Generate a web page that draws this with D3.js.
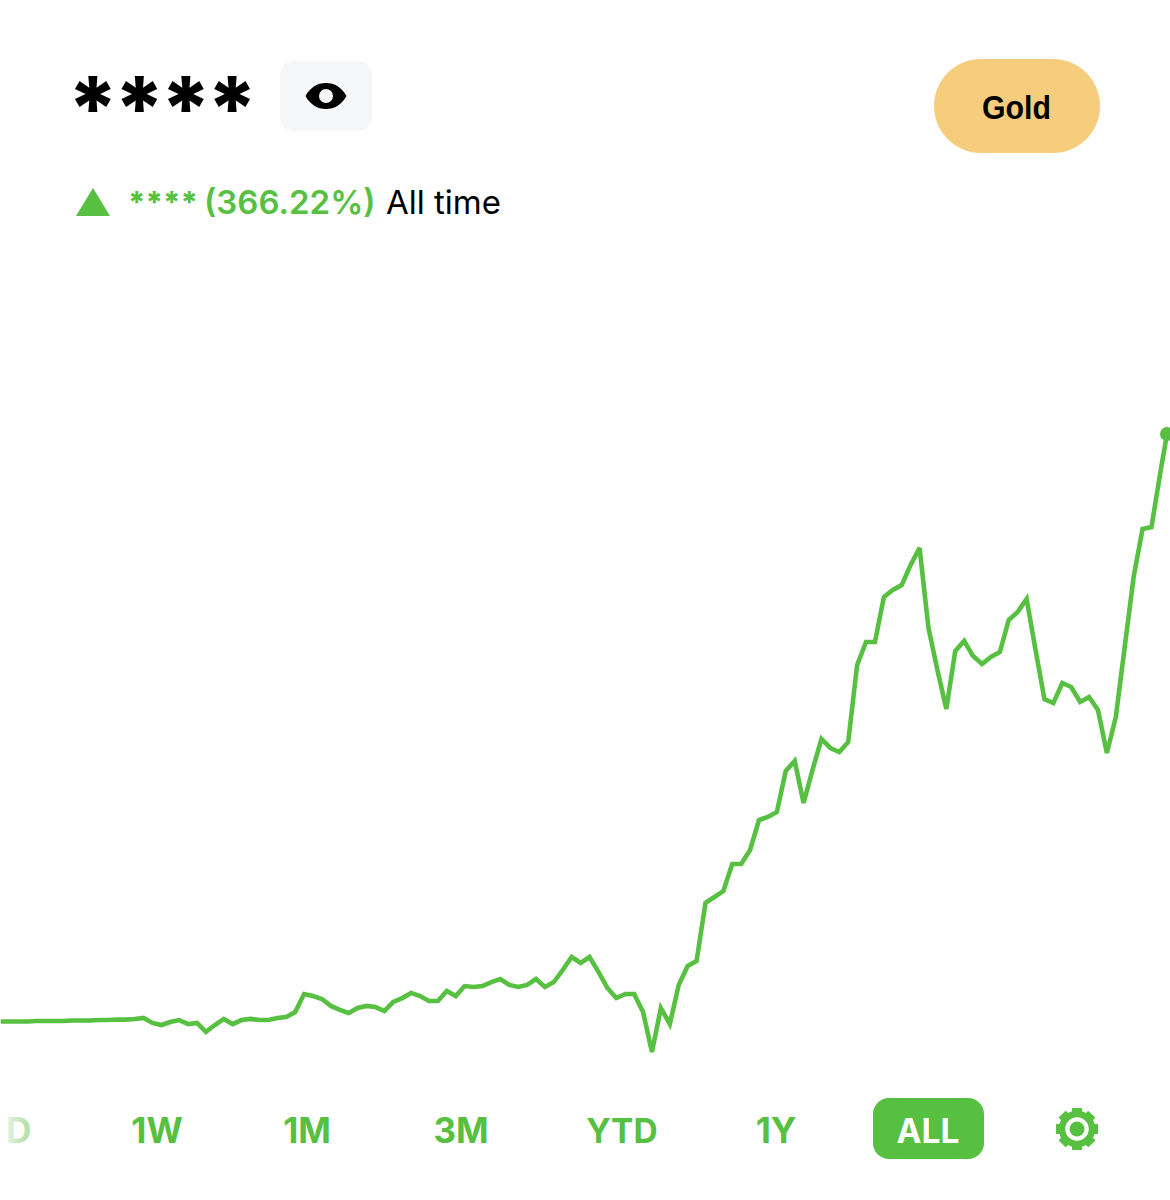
<!DOCTYPE html>
<html><head><meta charset="utf-8">
<script src="https://cdn.jsdelivr.net/npm/d3@7"></script>
<style>html,body{margin:0;padding:0;background:#fff}svg{display:block}text{font-family:Inter,sans-serif}</style>
</head><body><svg id="c" width="1170" height="1200"></svg>
<script>
const gains = [0,0,0,0,.3,.3,.3,.3,.6,.6,.6,.9,.9,1.2,1.2,1.6,2.2,
-.9,-2.2,-.3,.9,-1.6,-.9,-6.5,-2.2,1.6,-1.6,.9,1.6,.9,.9,2.2,2.8,5.9,17.1,15.9,14,9.7,7.2,5.3,8.4,9.7,9,6.5,12.2,14.6,17.8,15.9,12.8,12.8,19,15.9,22.1,21.5,22.1,24.6,26.5,22.8,21.5,22.8,26.5,21.5,24.6,32.1,40.2,36.5,40.2,30.9,20.9,14.6,17.1,17.1,5.9,-19,8.4,-1.6,22.8,34.6,37.7,73.9,77.6,81.3,98.2,98.2,106.9,125.6,127.5,130.6,156.2,162.4,136.2,156.8,176.1,170.5,168,174.2,222.2,236.6,236.6,264.6,269,272.1,284.6,295.2,245.3,219.1,194.8,231,237.2,227.8,222.8,227.2,230.3,250.3,255.3,263.4,231.6,201,198.5,211,208.5,199.2,202.3,194.2,167.4,189.8,233.5,277.1,307,308.2,342.5,366.22];
const ranges = ["1W","1M","3M","YTD","1Y"];
const GREEN = "#57c041";

const svg = d3.select("#c");
const n = gains.length;
const x = d3.scaleLinear().domain([0, n - 2 + .74]).range([.8, 1167]);
const y = d3.scaleLinear().domain([0, 366.22]).range([1021.5, 434]);
const xOf = (d, i) => i === n - 1 ? x(n - 2 + .74) : x(i);

// header
const stars = svg.append("text").attr("y", 140).attr("font-size", 88).attr("font-weight", 800).attr("fill","#000").text("*");
const starW = stars.node().getComputedTextLength();
stars.attr("x", 93 - starW / 2).style("letter-spacing", (46.4 - starW) + "px").text("****");
svg.append("rect").attr("x",280).attr("y",61).attr("width",92).attr("height",70).attr("rx",14).attr("fill","#f5f6f8");
svg.append("path").attr("transform","translate(326,96)").attr("fill","#000").attr("fill-rule","evenodd")
  .attr("d","M-20.5,0C-16,-8.5 -8.5,-13 0,-13C8.5,-13 16,-8.5 20.5,0C16,8.5 8.5,13 0,13C-8.5,13 -16,8.5 -20.5,0ZM0,-7A7,7 0 1,0 0,7A7,7 0 1,0 0,-7Z");
svg.append("rect").attr("x",934).attr("y",59).attr("width",166).attr("height",94).attr("rx",47).attr("fill","#f5cd7c");
svg.append("text").attr("x",1016.5).attr("y",119).attr("text-anchor","middle")
  .style("font-family","'Liberation Sans'").attr("font-size",33).attr("font-weight",700).attr("textLength",69).attr("lengthAdjust","spacingAndGlyphs").attr("fill","#000").text("Gold");

// change line
svg.append("path").attr("d","M76,216L93,188L110,216Z").attr("fill",GREEN);
svg.append("text").attr("x",128).attr("y",213).attr("font-size",30).attr("font-weight",800).attr("fill",GREEN).text("****");
svg.append("text").attr("x",204).attr("y",214).attr("font-size",33).attr("font-weight",600).attr("fill",GREEN).text("(366.22%)");
svg.append("text").attr("x",386).attr("y",214).attr("font-size",33).attr("font-weight",400).attr("fill","#000").text("All time");

// line
const line = d3.line().x(xOf).y(d => y(d)).curve(d3.curveLinear);
svg.append("path").datum(gains).attr("d", line).attr("fill","none").attr("stroke",GREEN)
  .attr("stroke-width",4.6).attr("stroke-linejoin","miter").attr("stroke-miterlimit",3);
svg.append("circle").attr("cx", xOf(0, n - 1)).attr("cy", y(gains[n - 1])).attr("r",7).attr("fill",GREEN);

// range buttons
const centers = [157,307,461,622,776];
const defs = svg.append("defs");
const g = defs.append("linearGradient").attr("id","fade").attr("gradientUnits","userSpaceOnUse")
  .attr("x1",6).attr("x2",32).attr("y1",0).attr("y2",0);
g.append("stop").attr("offset",0).attr("stop-color","#e6f3e2");
g.append("stop").attr("offset",1).attr("stop-color","#aadd9e");
svg.append("text").attr("x",6).attr("y",1142.5).attr("font-size",35).attr("font-weight",700).attr("fill","url(#fade)").text("D");
svg.selectAll("text.r").data(ranges).join("text").attr("class","r")
  .attr("x",(d,i)=>centers[i]).attr("y",1142.5).attr("text-anchor","middle")
  .attr("font-size",d=>d.length===3?33.5:35).attr("font-weight",700).attr("fill",GREEN).text(d=>d);
svg.append("rect").attr("x",873).attr("y",1098).attr("width",111).attr("height",61).attr("rx",16).attr("fill",GREEN);
svg.append("text").attr("x",928).attr("y",1142.5).attr("text-anchor","middle").attr("font-size",33.5).attr("font-weight",700).attr("fill","#fff").text("ALL");

// gear
const gear = svg.append("g").attr("transform","translate(1077,1129)");
gear.append("circle").attr("r",15).attr("fill","none").attr("stroke",GREEN).attr("stroke-width",6.5);
gear.append("circle").attr("r",7.5).attr("fill",GREEN);
d3.range(8).forEach(i => gear.append("rect").attr("x",-5).attr("y",-21).attr("width",10).attr("height",5).attr("rx",.8)
  .attr("fill",GREEN).attr("transform",`rotate(${i*45})`));
</script></body></html>
